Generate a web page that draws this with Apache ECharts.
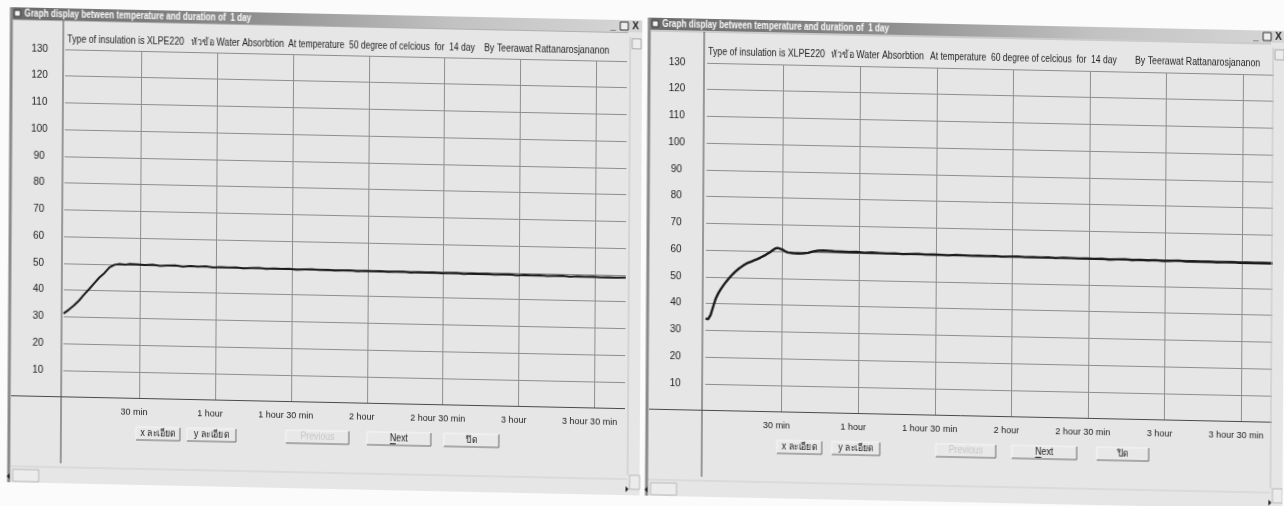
<!DOCTYPE html>
<html>
<head>
<meta charset="utf-8">
<script src="https://cdn.jsdelivr.net/npm/echarts@6/dist/echarts.min.js"></script>
<style>
  html, body { margin: 0; padding: 0; background: #fbfbfb; overflow: hidden; }
  #chart { width: 1284px; height: 506px; transform-origin: 0 253px; transform: matrix(1, 0.021, -0.006, 1, 0, 0); }
</style>
</head>
<body>
<div id="chart"></div>
<script>
// Elapsed time in minutes and logged temperature (degree C), 50 C run
const timeLeft = [0, 2, 4, 6, 8, 10, 12, 14, 16, 18, 20, 22, 24, 26,
  29, 32, 35, 38, 41, 44, 47, 50, 53, 56,
  59, 62, 65, 68, 71, 74, 77, 80, 83, 86,
  89, 92, 95, 98, 101, 104, 107, 110, 113, 116,
  119, 122, 125, 128, 131, 134, 137, 140, 143, 146,
  149, 152, 155, 158, 161, 164, 167, 170, 173, 176,
  179, 182, 185, 188, 191, 194, 197, 200, 203, 206,
  209, 212, 215, 218, 222];
const tempLeft = [31.2, 32.6, 34.2, 36.1, 38.4, 40.5, 42.7, 44.9, 46.6, 48.8, 49.8, 50.1, 49.9, 50.2,
  50.1, 49.9, 50.1, 49.8, 49.9, 50.0, 49.7, 49.9, 49.8, 49.9,
  49.6, 49.8, 49.7, 49.8, 49.5, 49.7, 49.8, 49.5, 49.7, 49.6,
  49.7, 49.4, 49.6, 49.7, 49.5, 49.6, 49.4, 49.5, 49.6, 49.3,
  49.5, 49.4, 49.5, 49.3, 49.4, 49.5, 49.2, 49.4, 49.3, 49.4,
  49.2, 49.3, 49.4, 49.1, 49.3, 49.2, 49.3, 49.1, 49.2, 49.3,
  49.0, 49.2, 49.1, 49.2, 49.0, 49.1, 49.2, 48.9, 49.1, 49.0,
  49.1, 48.9, 49.0, 48.9, 49.0];

// Elapsed time in minutes and logged temperature (degree C), 60 C run
const timeRight = [0, 1, 2, 3, 4, 5, 6, 7, 8, 9, 10, 11, 12, 13, 14, 15, 16, 17, 18, 19,
  20, 21, 22, 23, 24, 25, 26, 27, 28, 29, 30, 31, 32,
  34, 36, 38, 40, 42, 44, 46, 48, 50,
  53, 56, 59, 62, 65, 68, 71, 74, 77, 80,
  83, 86, 89, 92, 95, 98, 101, 104, 107, 110,
  113, 116, 119, 122, 125, 128, 131, 134, 137, 140,
  143, 146, 149, 152, 155, 158, 161, 164, 167, 170,
  173, 176, 179, 182, 185, 188, 191, 194, 197, 200,
  203, 206, 209, 212, 215, 218, 222];
const tempRight = [34.4, 34.1, 35.8, 39.0, 42.0, 44.0, 45.6, 47.0, 48.3, 49.5, 50.6, 51.6, 52.5, 53.3, 54.0, 54.7, 55.3, 55.7, 56.1, 56.5,
  56.9, 57.4, 57.9, 58.4, 59.0, 59.6, 60.3, 61.0, 61.3, 61.0, 60.7, 60.1, 59.7,
  59.5, 59.4, 59.5, 59.7, 60.3, 60.6, 60.7, 60.6, 60.5,
  60.4, 60.3, 60.4, 60.2, 60.3, 60.2, 60.1, 60.2, 60.0, 60.1,
  60.2, 60.0, 60.1, 60.0, 59.9, 60.1, 60.0, 59.9, 60.0, 59.9,
  60.0, 59.8, 59.9, 60.0, 59.8, 59.9, 59.8, 59.9, 59.7, 59.9,
  59.8, 59.7, 59.8, 59.7, 59.8, 59.6, 59.7, 59.8, 59.6, 59.7,
  59.6, 59.7, 59.5, 59.6, 59.7, 59.5, 59.6, 59.5, 59.6, 59.4,
  59.5, 59.6, 59.4, 59.5, 59.4, 59.5, 59.4];

// Tick labels along the time axis, one per 30 minutes
const xTickLabels = ['30 min', '1 hour', '1 hour 30 min', '2 hour', '2 hour 30 min', '3 hour', '3 hour 30 min'];
const setTemps = [50, 60];
const buttonLabels = ['x ละเอียด', 'y ละเอียด', 'Previous', 'Next', 'ปิด'];
const windowTitle = 'Graph display between temperature and duration of  1 day';

const FONT = "'Liberation Sans', Arial, sans-serif";
const GRID_TOP = 48, GRID_ZERO = 395.5;

// Window layout of the two forms
const panels = [
  { win: [10, 641], title: [7, 19], frameTop: 19.5, axisX: 62, gridL: 64, gridR: 626, labelX: 38.5, headerY: 38.7,
    header: [66, 190, 287, 483], buttons: [[137, 181], [188, 237], [287, 350], [368, 432], [445, 500]] },
  { win: [648, 1284], title: [4, 16], frameTop: 17, axisX: 703, gridL: 706, gridR: 1273, labelX: 676, headerY: 37.5,
    header: [707, 830, 929, 1134], buttons: [[778, 823], [833, 881], [937, 997], [1013, 1078], [1098, 1150]] }
];

function txt(x, y, text, opt) {
  opt = opt || {};
  return { type: 'text', x: x, y: y, z: opt.z || 10, silent: true, scaleX: opt.sx || 1,
    style: { text: text, fill: opt.fill || '#222', font: (opt.weight || 'normal') + ' ' + (opt.size || 10) + 'px ' + FONT,
      align: opt.align || 'left', verticalAlign: 'middle' } };
}
function ln(x1, y1, x2, y2, color, w, z) {
  return { type: 'line', z: z || 10, silent: true, shape: { x1: x1, y1: y1, x2: x2, y2: y2 },
    style: { stroke: color, lineWidth: w || 1 } };
}
function rect(x, y, w, h, fill, z, stroke) {
  return { type: 'rect', z: z === undefined ? -10 : z, silent: true, shape: { x: x, y: y, width: w, height: h },
    style: { fill: fill, stroke: stroke || null } };
}

function chrome(p, i) {
  const g = [];
  const [wl, wr] = p.win;
  // window body
  g.push(rect(wl, p.title[0], wr - wl, 482 - p.title[0], '#e6e6e6', -20));
  // title bar
  g.push({ type: 'rect', z: -5, silent: true, shape: { x: wl, y: p.title[0], width: wr - wl, height: p.title[1] - p.title[0] },
    style: { fill: new echarts.graphic.LinearGradient(0, 0, 1, 0, [
      { offset: 0, color: '#6a6a6a' }, { offset: 0.35, color: '#8a8a8a' }, { offset: 0.7, color: '#c2c2c2' }, { offset: 1, color: '#d6d6d6' }]) } });
  const tc = (p.title[0] + p.title[1]) / 2;
  g.push(rect(wl + 3, tc - 3, 6, 6, '#f4f4f4', 0, '#333'));
  g.push(txt(wl + 13, tc, windowTitle, { fill: '#fafafa', weight: 'bold', size: 10, sx: 0.82 }));
  // min / restore / close glyphs
  g.push(txt(wr - 32, tc, '_', { fill: '#222', weight: 'bold', size: 10 }));
  g.push(rect(wr - 22, tc - 4, 8, 8, '#eee', 0, '#333'));
  g.push(txt(wr - 10, tc, 'X', { fill: '#222', weight: 'bold', size: 10 }));
  // window left border and frame
  g.push(ln(wl, p.title[0], wl, 482, '#8a8a8a', 3));
  g.push(ln(wl + 2, p.frameTop, wr - 14, p.frameTop, '#b0b0b0', 1));
  // vertical axis line spanning the form, and the baseline
  g.push(ln(p.axisX, p.frameTop, p.axisX, 462, '#4a4a4a', 1));
  g.push(ln(wl + 2, GRID_ZERO, p.gridR, GRID_ZERO, '#4a4a4a', 1));
  // right scroll column
  g.push(ln(wr - 12, p.frameTop + 4, wr - 12, 462, '#c4c4c4', 1));
  g.push(rect(wr - 10, p.frameTop + 6, 9, 10, '#ececec', 0, '#aaa'));
  // header line
  const h = p.header;
  g.push(txt(h[0], p.headerY, 'Type of insulation is XLPE220', { sx: 0.88 }));
  g.push(txt(h[1], p.headerY, 'หัวข้อ Water Absorbtion', { sx: 0.88 }));
  g.push(txt(h[2], p.headerY, 'At temperature  ' + setTemps[i] + ' degree of celcious  for  14 day', { sx: 0.85 }));
  g.push(txt(h[3], p.headerY, 'By Teerawat Rattanarosjananon', { sx: 0.88 }));
  // buttons
  p.buttons.forEach(function (b, k) {
    const y0 = 424, y1 = 437;
    g.push(rect(b[0], y0, b[1] - b[0], y1 - y0, '#e8e8e8', 0));
    g.push(ln(b[0], y0, b[1], y0, '#f6f6f6', 1, 1));
    g.push(ln(b[0], y0, b[0], y1, '#f6f6f6', 1, 1));
    g.push(ln(b[0], y1, b[1], y1, '#6a6a6a', 1, 1));
    g.push(ln(b[1], y0, b[1], y1, '#6a6a6a', 1, 1));
    const disabled = k === 2;
    g.push(txt((b[0] + b[1]) / 2, (y0 + y1) / 2, buttonLabels[k],
      { align: 'center', fill: disabled ? '#c6c6c6' : '#222', z: 11, sx: 0.88 }));
    if (k === 3) {
      g.push(ln((b[0] + b[1]) / 2 - 9, (y0 + y1) / 2 + 5, (b[0] + b[1]) / 2 - 3, (y0 + y1) / 2 + 5, '#222', 1, 11));
    }
  });
  // horizontal scroll bar
  g.push(ln(wl + 2, 466, wr - 12, 466, '#cfcfcf', 1));
  g.push({ type: 'polygon', z: 10, silent: true, shape: { points: [[wl - 2, 476], [wl + 1, 473], [wl + 1, 479]] }, style: { fill: '#222' } });
  g.push(rect(wl + 4, 469, 26, 12, '#ececec', 0, '#b8b8b8'));
  g.push({ type: 'polygon', z: 10, silent: true, shape: { points: [[wr - 14, 473], [wr - 11, 476], [wr - 14, 479]] }, style: { fill: '#222' } });
  g.push(rect(wr - 10, 462, 10, 14, '#ececec', 0, '#b8b8b8'));
  return g;
}

const graphic = [].concat(chrome(panels[0], 0), chrome(panels[1], 1));

function xAxisFor(idx) {
  return {
    type: 'value', gridIndex: idx, min: 0, max: 222, interval: 30,
    axisLine: { show: false }, axisTick: { show: false },
    splitLine: { show: true, showMinLine: false, showMaxLine: false, lineStyle: { color: '#8e8e8e', width: 1 } },
    axisLabel: {
      margin: 10, color: '#222', fontFamily: FONT, fontSize: 9, padding: [0, 10, 0, 0],
      showMinLabel: false, showMaxLabel: false,
      formatter: function (v) {
        const k = Math.round(v / 30) - 1;
        return (v % 30 === 0 && k >= 0 && k < xTickLabels.length) ? xTickLabels[k] : '';
      }
    }
  };
}
function yAxisFor(idx, p) {
  return {
    type: 'value', gridIndex: idx, min: 0, max: 130, interval: 10,
    axisLine: { show: false }, axisTick: { show: false },
    splitLine: { show: true, showMinLine: false, lineStyle: { color: '#8e8e8e', width: 1 } },
    axisLabel: {
      margin: p.gridL - p.labelX, align: 'center', color: '#222', fontFamily: FONT, fontSize: 10,
      formatter: function (v) { return v === 0 ? '' : String(v); }
    }
  };
}

function pairs(t, v) { return t.map(function (x, i) { return [x, v[i]]; }); }

const option = {
  animation: false,
  backgroundColor: 'transparent',
  grid: panels.map(function (p) {
    return { left: p.gridL, width: p.gridR - p.gridL, top: GRID_TOP, height: GRID_ZERO - GRID_TOP, containLabel: false };
  }),
  xAxis: [xAxisFor(0), xAxisFor(1)],
  yAxis: [yAxisFor(0, panels[0]), yAxisFor(1, panels[1])],
  graphic: graphic,
  series: [
    { type: 'line', xAxisIndex: 0, yAxisIndex: 0, data: pairs(timeLeft, tempLeft), showSymbol: false,
      lineStyle: { color: '#1b1b1b', width: 2 }, z: 5 },
    { type: 'line', xAxisIndex: 1, yAxisIndex: 1, data: pairs(timeRight, tempRight), showSymbol: false,
      lineStyle: { color: '#1b1b1b', width: 2.4 }, z: 5 }
  ]
};

const chart = echarts.init(document.getElementById('chart'), null, { renderer: 'canvas' });
chart.setOption(option);
</script>
</body>
</html>
